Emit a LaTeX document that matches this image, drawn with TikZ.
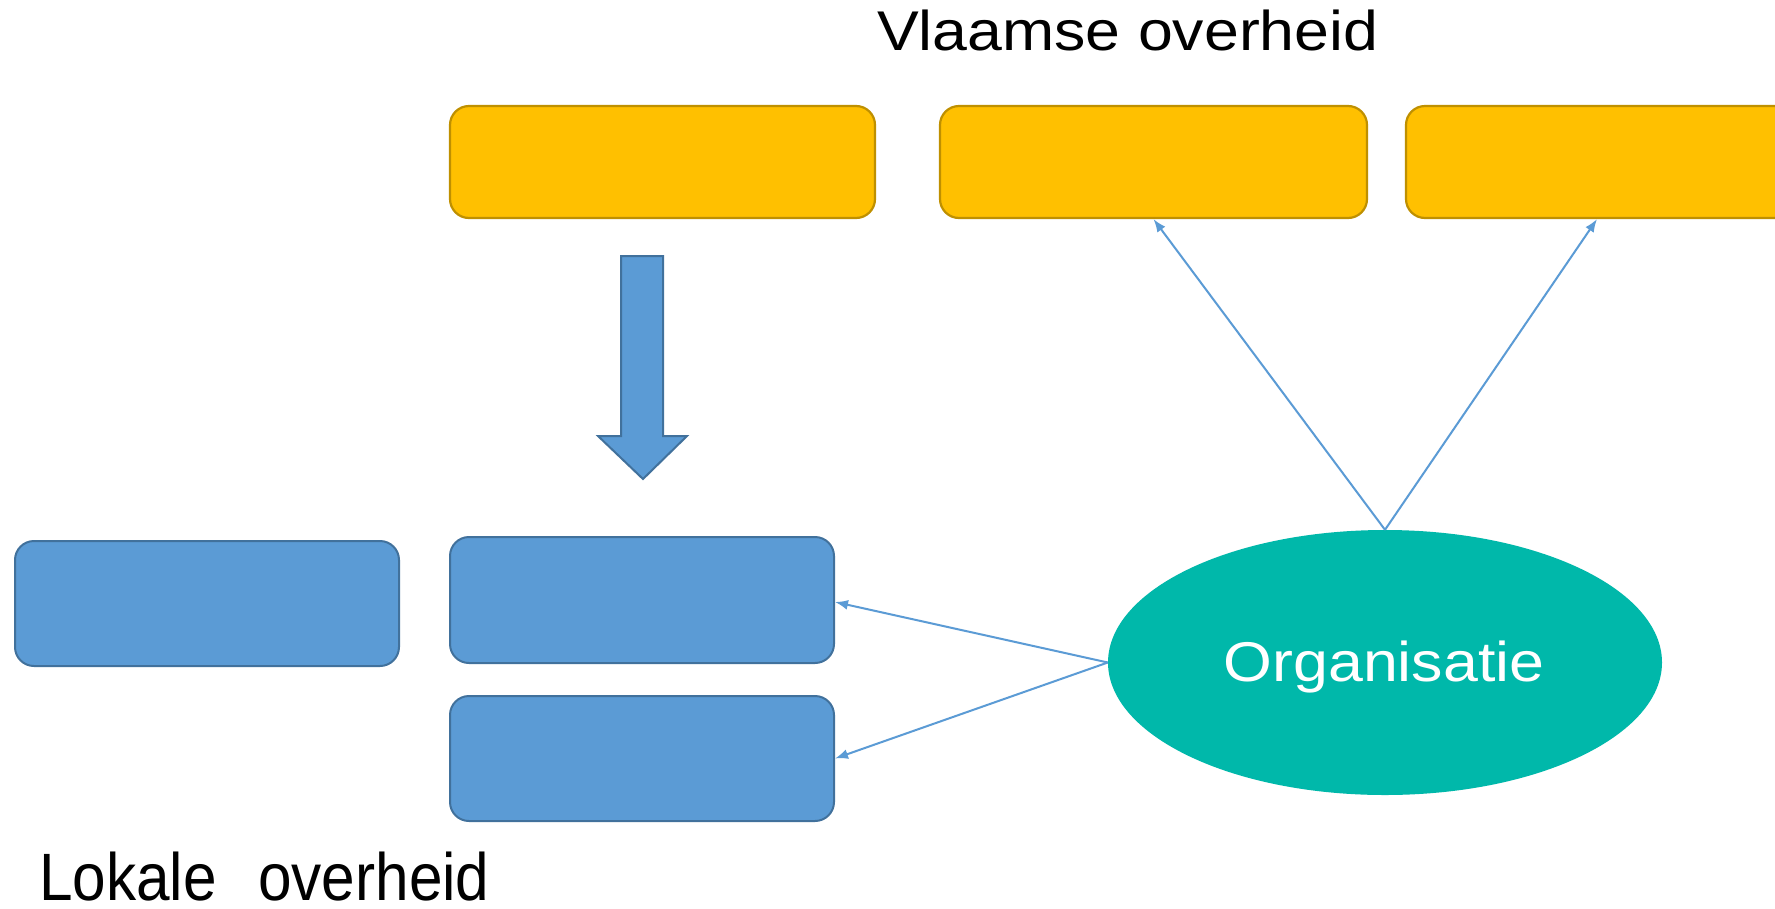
\documentclass[tikz,border=0pt]{standalone}
\usepackage{fontspec}
\usepackage{graphicx}
\setmainfont{Liberation Sans}
\usetikzlibrary{arrows.meta,calc,shapes.geometric}
\definecolor{yfill}{HTML}{FFC000}
\definecolor{ydraw}{HTML}{BF9000}
\definecolor{bfill}{HTML}{5B9BD5}
\definecolor{bdraw}{HTML}{41719C}
\definecolor{orgteal}{HTML}{00B8AA}
\begin{document}
\begin{tikzpicture}[x=1pt,y=-1pt,
  ybox/.style={draw=ydraw,fill=yfill,line width=2.2pt,rounded corners=19pt,inner sep=0pt,minimum height=112pt},
  bbox/.style={draw=bdraw,fill=bfill,line width=2pt,rounded corners=19pt,inner sep=0pt,minimum width=384pt,minimum height=125pt},
  conn/.style={draw=bfill,line width=2pt,-{Latex[length=13pt,width=10pt]}},
  lbl/.style={inner sep=0pt,text=black}]
\useasboundingbox (0,0) rectangle (1775,908);
\fill[white] (0,0) rectangle (1775,908);
% yellow boxes
\node[ybox,minimum width=425pt] (y1) at (662.5,162) {};
\node[ybox,minimum width=427pt] (y2) at (1153.5,162) {};
\node[ybox,minimum width=427pt] (y3) at (1619.5,162) {};
% blue boxes
\node[bbox] (bl) at (207,603.5) {};
\node[bbox,minimum height=126pt] (bt) at (642,600) {};
\node[bbox] (bb) at (642,758.5) {};
% block arrow
\draw[draw=bdraw,fill=bfill,line width=2pt,line join=miter]
  (621,256) -- (663,256) -- (663,436) -- (687,436) -- (643,479) -- (598,436) -- (621,436) -- cycle;
% ellipse
\node[ellipse,fill=orgteal,minimum width=554pt,minimum height=265pt,inner sep=0pt] (org) at (1385,662.5) {};
\node[inner sep=0pt,anchor=base,text=white] (orgtext) at (1384,681) {\fontsize{56}{64}\selectfont\scalebox{1.12}[1]{Organisatie}};
% connectors
\draw[conn] (org.north) -- (y2.south);
\draw[conn] (org.north) -- ([xshift=-22.5pt]y3.south);
\draw[conn] (org.west) -- ([yshift=-2pt]bt.east);
\draw[conn] (org.west) -- (bb.east);
% titles
\node[lbl,anchor=base west] (vl) at (877,50) {\fontsize{56}{64}\selectfont\scalebox{1.118}[1]{Vlaamse overheid}};
\node[lbl,anchor=base west] (lo) at (39,900) {\fontsize{67}{76}\selectfont\scalebox{0.9}[1]{Lokale\hspace{46pt}overheid}};
\end{tikzpicture}
\end{document}
